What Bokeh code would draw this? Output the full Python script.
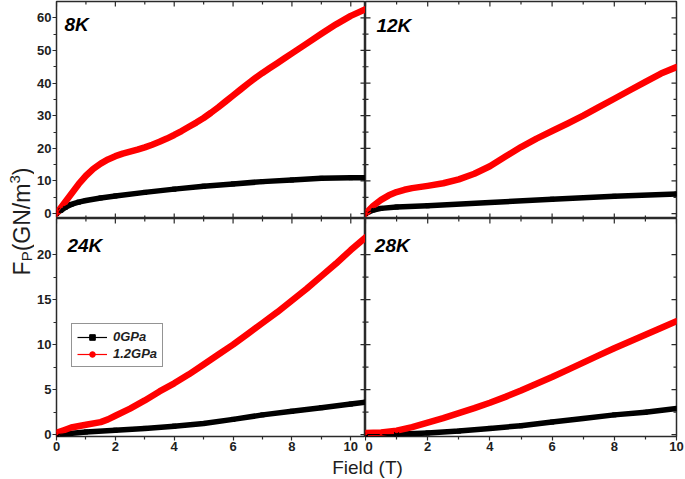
import math
from bokeh.plotting import figure
from bokeh.models import Range1d, LinearAxis, FixedTicker, Label, Legend, LegendItem
from bokeh.layouts import row, column
from bokeh.embed import file_html
from bokeh.resources import INLINE

# ---------------- data ----------------
# 8 K panel (left column, field axis 0-10.5 T)
field_8k_12 = [0, 0.25, 0.5, 0.75, 1.0, 1.25, 1.5, 1.75, 2.0, 2.25, 2.5, 2.75, 3.0, 3.25, 3.5,
               3.75, 4.0, 4.25, 4.5, 4.75, 5.0, 5.25, 5.5, 5.75, 6.0, 6.25, 6.5, 6.75, 7.0,
               7.25, 7.5, 7.75, 8.0, 8.5, 9.0, 9.5, 10.0, 10.5]
fp_8k_12 = [0, 3.0, 6.0, 9.0, 11.6, 13.7, 15.3, 16.6, 17.6, 18.4, 19.0, 19.6, 20.3, 21.1, 22.0,
            23.0, 24.1, 25.3, 26.6, 27.9, 29.3, 30.9, 32.6, 34.4, 36.2, 38.0, 39.8, 41.5, 43.1,
            44.6, 46.1, 47.6, 49.1, 52.1, 55.1, 58.0, 60.6, 62.6]
field_8k_0 = [0, 0.15, 0.3, 0.5, 0.75, 1.0, 1.5, 2.0, 3.0, 4.0, 5.0, 6.0, 7.0, 8.0, 9.0, 10.0, 10.5]
fp_8k_0 = [0, 1.0, 1.9, 2.8, 3.5, 4.0, 4.8, 5.4, 6.5, 7.5, 8.4, 9.1, 9.8, 10.3, 10.8, 11.0, 11.0]

# 12 K panel (right column, field axis 0-10 T)
field_12k_12 = [0, 0.25, 0.5, 0.75, 1.0, 1.25, 1.5, 2.0, 2.5, 3.0, 3.5, 4.0, 4.5, 5.0, 5.5,
                6.0, 6.5, 7.0, 7.5, 8.0, 8.5, 9.0, 9.5, 10.0]
fp_12k_12 = [0, 2.4, 4.2, 5.6, 6.6, 7.3, 7.8, 8.5, 9.3, 10.5, 12.2, 14.5, 17.5, 20.4, 23.0,
             25.3, 27.6, 30.0, 32.6, 35.2, 37.8, 40.4, 42.9, 44.9]
field_12k_0 = [0, 0.25, 0.5, 1.0, 2.0, 4.0, 6.0, 8.0, 10.0]
fp_12k_0 = [0, 1.1, 1.6, 2.0, 2.4, 3.4, 4.4, 5.3, 6.0]

# 24 K panel (left column)
field_24k_12 = [0, 0.25, 0.5, 1.0, 1.5, 1.75, 2.0, 2.5, 3.0, 3.5, 4.0, 4.5, 5.0, 5.5,
                6.0, 6.5, 7.0, 7.5, 8.0, 8.5, 9.0, 9.5, 10.0, 10.5]
fp_24k_12 = [0.2, 0.5, 0.8, 1.1, 1.4, 1.7, 2.1, 2.9, 3.8, 4.8, 5.7, 6.7, 7.8, 8.9,
             10.0, 11.2, 12.4, 13.6, 14.9, 16.2, 17.6, 19.0, 20.5, 21.9]
field_24k_0 = [0, 1, 2, 3, 4, 5, 6, 7, 8, 9, 10, 10.5]
fp_24k_0 = [0, 0.3, 0.5, 0.7, 0.95, 1.25, 1.7, 2.2, 2.6, 3.0, 3.4, 3.6]

# 28 K panel (right column)
field_28k_12 = [0, 0.5, 1.0, 1.5, 2.0, 2.5, 3.0, 3.5, 4.0, 4.5, 5.0, 5.5, 6.0, 6.5, 7.0,
                7.5, 8.0, 8.5, 9.0, 9.5, 10.0]
fp_28k_12 = [0.2, 0.25, 0.45, 0.85, 1.35, 1.85, 2.4, 2.95, 3.55, 4.2, 4.9, 5.65, 6.4, 7.2, 8.0,
             8.8, 9.6, 10.35, 11.1, 11.85, 12.6]
field_28k_0 = [0, 1, 2, 3, 4, 5, 6, 7, 8, 9, 10]
fp_28k_0 = [0, 0.05, 0.2, 0.4, 0.7, 1.0, 1.4, 1.8, 2.2, 2.5, 2.9]

series_names = ["0GPa", "1.2GPa"]
panel_names = ["8K", "12K", "24K", "28K"]

x_major = [0, 2, 4, 6, 8, 10]
x_minor = [1, 3, 5, 7, 9]
y_top_major = [0, 10, 20, 30, 40, 50, 60]
y_top_minor = [5, 15, 25, 35, 45, 55]
y_bot_major = [0, 5, 10, 15, 20]
y_bot_minor = [2.5, 7.5, 12.5, 17.5]

XR_LEFT, XR_RIGHT = (0, 10.5), (0, 10)
YR_TOP, YR_BOT = (-1.5, 65), (-0.2, 24)

# ---------------- styling ----------------
FONT = "Liberation Sans"
AXC = "#2a2a2a"
TXT = "#1e1e1e"
RED = "#ff0000"
BLK = "#000000"
TICK_FS = "13px"

YLAB_W = 34
LEFT_W, RIGHT_W = 331, 320
LEFT_BORDER = 20
TOP_H, BOT_H, XLAB_H = 218, 238, 22
TOTAL_H = TOP_H + BOT_H + XLAB_H


def add_axis(p, side, major, minor):
    """Outer axis with outward ticks and bold labels."""
    ax = LinearAxis(ticker=FixedTicker(ticks=major, minor_ticks=minor))
    ax.axis_line_color = None
    ax.major_tick_line_color = AXC
    ax.minor_tick_line_color = AXC
    ax.major_tick_line_width = 1.2
    ax.minor_tick_line_width = 1.2
    ax.major_tick_in = 0
    ax.major_tick_out = 4
    ax.minor_tick_in = 0
    ax.minor_tick_out = 3
    ax.major_label_text_font = FONT
    ax.major_label_text_font_style = "bold"
    ax.major_label_text_color = TXT
    ax.major_label_text_font_size = TICK_FS
    ax.major_label_standoff = 1
    p.add_layout(ax, side)


def edge_ticks(p, pos, major, minor, horizontal_edge):
    """Tick marks on an edge without labels (clipped to the frame, so they point inward)."""
    if horizontal_edge:
        p.scatter(x=major, y=[pos] * len(major), marker="dash", angle=math.pi / 2, size=10,
                  line_color=AXC, line_width=1.2)
        p.scatter(x=minor, y=[pos] * len(minor), marker="dash", angle=math.pi / 2, size=6,
                  line_color=AXC, line_width=1.2)
    else:
        p.scatter(x=[pos] * len(major), y=major, marker="dash", size=10,
                  line_color=AXC, line_width=1.2)
        p.scatter(x=[pos] * len(minor), y=minor, marker="dash", size=6,
                  line_color=AXC, line_width=1.2)


def make_panel(xr, yr, width, height, mbl, mbr, mbt, mbb, ymaj, ymin, left_col, bottom_row):
    p = figure(width=width, height=height, x_range=Range1d(*xr), y_range=Range1d(*yr),
               output_backend="svg", toolbar_location=None,
               x_axis_location=None, y_axis_location=None,
               min_border_left=mbl, min_border_right=mbr,
               min_border_top=mbt, min_border_bottom=mbb)
    p.outline_line_color = AXC
    p.outline_line_width = 1.5
    p.background_fill_color = "white"
    p.border_fill_color = "white"
    p.xgrid.visible = False
    p.ygrid.visible = False
    xmaj = [v for v in x_major if xr[0] <= v <= xr[1]]
    if left_col:
        add_axis(p, "left", ymaj, ymin)
    else:
        edge_ticks(p, xr[0], ymaj, ymin, False)
    edge_ticks(p, xr[1], ymaj, ymin, False)
    edge_ticks(p, yr[1], xmaj, x_minor, True)
    if bottom_row:
        add_axis(p, "below", xmaj, x_minor)
    else:
        edge_ticks(p, yr[0], xmaj, x_minor, True)
    return p


def draw(p, x0, y0, x1, y1, name, lx, ly):
    p.line(x0, y0, line_color=BLK, line_width=5.5, line_join="round", line_cap="round")
    p.line(x1, y1, line_color=RED, line_width=6.5, line_join="round", line_cap="round")
    # thin line + point markers of the measured data (inside the thick band)
    l0 = p.line(x0, y0, line_color=BLK, line_width=1.2)
    m0 = p.scatter(x0, y0, marker="square", size=4, fill_color=BLK, line_color=BLK)
    l1 = p.line(x1, y1, line_color=RED, line_width=1.2)
    m1 = p.scatter(x1, y1, marker="circle", size=4, fill_color=RED, line_color=RED)
    p.add_layout(Label(x=lx, y=ly, text=name, text_font=FONT, text_font_style="bold italic",
                       text_font_size="19px", text_color=BLK, text_align="left",
                       text_baseline="middle"))
    return (l0, m0), (l1, m1)


tl = make_panel(XR_LEFT, YR_TOP, LEFT_W, TOP_H, LEFT_BORDER, 0, 1, 0, y_top_major, y_top_minor, True, False)
tr = make_panel(XR_RIGHT, YR_TOP, RIGHT_W, TOP_H, 0, 9, 1, 0, y_top_major, y_top_minor, False, False)
bl = make_panel(XR_LEFT, YR_BOT, LEFT_W, BOT_H, LEFT_BORDER, 0, 0, 20, y_bot_major, y_bot_minor, True, True)
br = make_panel(XR_RIGHT, YR_BOT, RIGHT_W, BOT_H, 0, 9, 0, 20, y_bot_major, y_bot_minor, False, True)

draw(tl, field_8k_0, fp_8k_0, field_8k_12, fp_8k_12, panel_names[0], 0.27, 58)
draw(tr, field_12k_0, fp_12k_0, field_12k_12, fp_12k_12, panel_names[1], 0.35, 57.5)
s0, s1 = draw(bl, field_24k_0, fp_24k_0, field_24k_12, fp_24k_12, panel_names[2], 0.37, 21.0)
draw(br, field_28k_0, fp_28k_0, field_28k_12, fp_28k_12, panel_names[3], 0.30, 21.0)

legend = Legend(items=[LegendItem(label=series_names[0], renderers=list(s0)),
                       LegendItem(label=series_names[1], renderers=list(s1))],
                location=(15, 69))
legend.label_text_font = FONT
legend.label_text_font_style = "bold italic"
legend.label_text_font_size = "13px"
legend.label_text_color = TXT
legend.border_line_color = AXC
legend.border_line_width = 1.2
legend.background_fill_alpha = 1.0
legend.padding = 5
legend.spacing = 2
legend.margin = 0
legend.glyph_width = 30
legend.glyph_height = 14
legend.label_height = 14
legend.label_standoff = 6
bl.add_layout(legend, "center")

# y-axis title panel
ylab = figure(width=YLAB_W, height=TOTAL_H, x_range=Range1d(0, YLAB_W), y_range=Range1d(0, TOTAL_H),
              output_backend="svg", toolbar_location=None, x_axis_location=None, y_axis_location=None,
              min_border=0, min_border_left=0, min_border_right=0, min_border_top=0, min_border_bottom=0)
ylab.outline_line_color = None
ylab.xgrid.visible = False
ylab.ygrid.visible = False
pieces = [("F", 23, 0), ("P", 15, 4.5), ("(GN/m", 23, 0), ("3", 15, -7), (")", 23, 0)]
widths = [0.611 * 23, 0.667 * 15, 2.944 * 23, 0.556 * 15, 0.333 * 23]
yc = TOTAL_H - 221
ypos = yc - sum(widths) / 2
for (txt, fs, dx), w in zip(pieces, widths):
    ylab.add_layout(Label(x=21.5 + dx, y=ypos, text=txt, angle=math.pi / 2, text_font=FONT,
                          text_font_size=f"{fs}px", text_color=TXT, text_align="left",
                          text_baseline="middle"))
    ypos += w

# x-axis title panel
XLAB_W = LEFT_W + RIGHT_W
xlab = figure(width=XLAB_W, height=XLAB_H, x_range=Range1d(0, XLAB_W), y_range=Range1d(0, XLAB_H),
              output_backend="svg", toolbar_location=None, x_axis_location=None, y_axis_location=None,
              min_border=0, min_border_left=0, min_border_right=0, min_border_top=0, min_border_bottom=0)
xlab.outline_line_color = None
xlab.xgrid.visible = False
xlab.ygrid.visible = False
xlab.add_layout(Label(x=333, y=11, text="Field (T)", text_font=FONT, text_font_size="19px",
                      text_color=TXT, text_align="center", text_baseline="middle"))

layout = row(ylab, column(row(tl, tr), row(bl, br), xlab))

open("out.html", "w").write(file_html(layout, INLINE))
